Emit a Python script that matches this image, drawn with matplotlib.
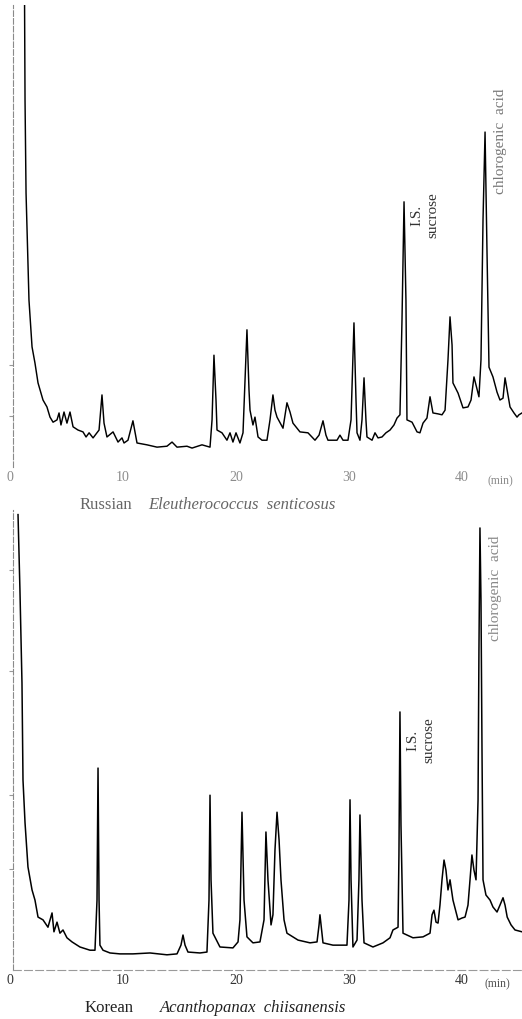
import matplotlib
matplotlib.use("Agg")
import matplotlib.pyplot as plt

plt.rcParams['font.family'] = ['Liberation Serif', 'DejaVu Serif']

# retention time (min) and detector response (% of panel height)
russian_t = [1.24, 1.33, 1.42, 1.68, 1.95, 2.21, 2.48, 2.92, 3.27, 3.54, 3.81, 4.16, 4.34, 4.51,
             4.78, 5.04, 5.31, 5.58, 6.02, 6.46, 6.73, 7.00, 7.35, 7.70, 7.88, 8.14, 8.32, 8.58,
             9.12, 9.56, 9.91, 10.09, 10.44, 10.88, 11.24, 12.12, 13.01, 13.89, 14.34, 14.78,
             15.66, 16.11, 16.99, 17.70, 17.88, 18.05, 18.23, 18.32, 18.76, 19.20, 19.47, 19.73,
             20.00, 20.35, 20.62, 20.97, 21.15, 21.24, 21.50, 21.68, 21.95, 22.30, 22.74, 23.01,
             23.27, 23.45, 23.63, 24.16, 24.34, 24.51, 24.78, 25.04, 25.66, 26.37, 26.99, 27.35,
             27.70, 27.96, 28.14, 28.94, 29.20, 29.47, 29.91, 30.18, 30.44, 30.62, 30.71, 30.97,
             31.15, 31.33, 31.50, 31.59, 32.04, 32.30, 32.57, 32.92, 33.27, 33.63, 33.98, 34.25,
             34.51, 34.69, 34.87, 35.04, 35.13, 35.58, 36.02, 36.28, 36.55, 36.90, 37.17, 37.43,
             37.88, 38.23, 38.50, 38.76, 38.94, 39.12, 39.20, 39.65, 40.09, 40.53, 40.80, 41.06,
             41.24, 41.50, 41.68, 41.86, 42.04, 42.21, 42.39, 42.74, 43.10, 43.36, 43.63, 43.81,
             44.07, 44.25, 44.60, 44.87, 45.04, 45.31]
russian_s = [125, 79.4, 59.3, 36.1, 26.0, 22.5, 18.2, 14.5, 13.0, 10.8, 9.7, 10.2, 11.7, 9.1,
             11.9, 9.5, 11.9, 8.7, 8.0, 7.6, 6.5, 7.4, 6.3, 7.4, 8.0, 15.6, 9.5, 6.5,
             7.6, 5.4, 6.3, 5.2, 5.8, 10.0, 5.2, 4.8, 4.3, 4.5, 5.4, 4.3,
             4.5, 4.1, 4.8, 4.3, 10.2, 24.2, 14.5, 8.0, 7.4, 5.8, 7.4, 5.4,
             7.4, 5.2, 7.4, 29.7, 16.7, 12.3, 9.1, 10.8, 6.5, 5.8, 5.8, 10.2,
             15.6, 12.3, 10.8, 8.4, 11.3, 13.9, 11.9, 9.5, 7.6, 7.4, 5.8, 6.9,
             10.0, 6.9, 5.8, 5.8, 6.9, 5.8, 5.8, 10.2, 31.2, 14.5, 7.4, 5.8,
             10.2, 19.3, 10.2, 6.5, 5.8, 7.4, 6.3, 6.5, 7.4, 8.0, 9.1, 10.6,
             11.3, 31.8, 57.4, 36.1, 10.2, 9.7, 7.6, 7.4, 9.5, 10.6, 15.2, 11.7,
             11.5, 11.3, 12.3, 23.2, 32.5, 26.4, 18.2, 16.0, 12.8, 13.0, 14.5, 19.5,
             17.7, 15.2, 23.2, 53.5, 72.5, 47.0, 21.6, 19.5, 16.2, 14.5, 14.9, 19.3,
             15.6, 13.0, 11.7, 10.8, 11.3, 11.7]

korean_t = [0.71, 0.88, 1.06, 1.15, 1.33, 1.59, 1.95, 2.21, 2.48, 2.92, 3.36, 3.72, 3.89, 4.16,
            4.42, 4.69, 5.04, 5.49, 6.19, 7.08, 7.52, 7.70, 7.79, 7.88, 7.96, 8.23, 8.85, 9.73,
            10.88, 12.39, 13.89, 14.78, 15.13, 15.31, 15.49, 15.75, 16.81, 17.43, 17.61, 17.70,
            17.79, 17.96, 18.58, 19.73, 20.18, 20.35, 20.53, 20.71, 20.97, 21.50, 22.12, 22.48,
            22.65, 22.83, 23.10, 23.27, 23.45, 23.63, 23.81, 23.98, 24.25, 24.51, 25.49, 26.55,
            27.17, 27.35, 27.43, 27.70, 28.58, 29.82, 30.00, 30.09, 30.18, 30.35, 30.71, 30.88,
            30.97, 31.15, 31.33, 32.12, 33.01, 33.63, 33.89, 34.34, 34.42, 34.51, 34.60, 34.78,
            35.66, 36.55, 37.17, 37.35, 37.52, 37.70, 37.88, 38.05, 38.23, 38.41, 38.58, 38.76,
            38.94, 39.20, 39.65, 40.00, 40.27, 40.53, 40.71, 40.88, 41.06, 41.24, 41.42, 41.50,
            41.59, 41.68, 41.77, 41.86, 42.12, 42.48, 42.74, 43.10, 43.36, 43.63, 43.81, 44.00,
            44.34, 44.69, 45.31]
korean_s = [99.0, 82.6, 62.4, 41.3, 32.0, 22.4, 17.4, 15.2, 11.5, 10.9, 9.3, 12.4, 8.3, 10.4,
            8.0, 8.7, 7.0, 6.1, 5.0, 4.3, 4.3, 15.2, 43.9, 15.2, 5.4, 4.3, 3.7, 3.5,
            3.5, 3.7, 3.3, 3.5, 5.4, 7.6, 5.4, 3.9, 3.7, 3.9, 15.2, 38.0,
            19.6, 8.0, 5.0, 4.8, 6.1, 10.9, 34.3, 15.2, 7.2, 5.9, 6.1, 10.9,
            30.0, 19.6, 9.8, 12.0, 26.1, 34.3, 28.3, 19.6, 10.9, 8.0, 6.5, 5.9,
            6.1, 9.8, 12.0, 5.9, 5.4, 5.4, 15.2, 37.0, 19.6, 5.0, 6.5, 19.6,
            33.7, 15.2, 5.9, 5.0, 5.9, 7.0, 8.7, 9.3, 25.0, 56.1, 31.5, 8.0,
            7.0, 7.2, 8.0, 12.0, 13.0, 10.4, 10.2, 14.1, 19.6, 23.9, 21.7, 17.4,
            19.6, 15.2, 10.9, 11.3, 11.5, 14.1, 19.6, 25.0, 21.7, 19.6, 37.0, 69.6,
            96.1, 80.4, 47.8, 19.6, 16.3, 15.2, 13.7, 12.6, 14.1, 15.7, 14.1, 11.5,
            9.8, 8.7, 8.3]

tick_vals = [0, 10, 20, 30, 40]
russian_yticks = [11, 22]
korean_yticks = [22, 38, 65, 87]

fig = plt.figure(figsize=(5.22, 10.19), dpi=100)
ax1 = fig.add_axes([0, 0.5417, 1, 0.4534])
ax2 = fig.add_axes([0, 0.0481, 1, 0.4514])

for ax in (ax1, ax2):
    ax.set_xlim(-0.885, 45.31)
    ax.set_ylim(0, 100)
    ax.patch.set_alpha(0)
    for sp in ('top', 'right'):
        ax.spines[sp].set_visible(False)
    ax.spines['left'].set_position(('data', 0.27))
    ax.spines['left'].set_linestyle((0, (5, 2)))
    ax.spines['left'].set_color('#8a8a8a')
    ax.spines['left'].set_linewidth(0.8)
    ax.set_xticks(tick_vals)
    ax.tick_params(axis='x', length=0)
    ax.tick_params(axis='y', length=3, color='#999999', labelleft=False)

ax1.spines['bottom'].set_visible(False)
ax2.spines['bottom'].set_linestyle((0, (7, 3)))
ax2.spines['bottom'].set_color('#9a9a9a')
ax2.spines['bottom'].set_linewidth(0.8)
ax2.spines['bottom'].set_bounds(0.27, 45.31)

ax1.plot(russian_t, russian_s, color='black', lw=1.05)
ax2.plot(korean_t, korean_s, color='black', lw=1.1)

ax1.set_yticks(russian_yticks)
ax2.set_yticks(korean_yticks)
ax1.set_xticklabels([str(v) for v in tick_vals], fontsize=10, color='#8c8c8c')
ax2.set_xticklabels([str(v) for v in tick_vals], fontsize=10, color='#333333')
ax1.tick_params(axis='x', pad=3)
ax2.tick_params(axis='x', pad=3)

# "(min)" labels beside the last tick
ax1.text(43.4, -1.9, '(min)', fontsize=8.5, color='#8c8c8c', ha='center', va='top')
ax2.text(43.1, -1.9, '(min)', fontsize=8.5, color='#555555', ha='center', va='top')

# peak annotations
ax1.text(36.7, 54.5, 'I.S.\nsucrose', rotation=90, fontsize=11, color='#333333',
         ha='center', va='center', multialignment='center', linespacing=1.3)
ax1.text(43.4, 70.5, 'chlorogenic  acid', rotation=90, fontsize=11, color='#777777',
         ha='center', va='center')
ax2.text(36.4, 50.0, 'I.S.\nsucrose', rotation=90, fontsize=11, color='#333333',
         ha='center', va='center', multialignment='center', linespacing=1.3)
ax2.text(43.0, 83.0, 'chlorogenic  acid', rotation=90, fontsize=11, color='#888888',
         ha='center', va='center')

# panel captions
fig.text(80 / 522, 1 - 505 / 1019, 'Russian', fontsize=12, color='#666666', va='center')
fig.text(148 / 522, 1 - 505 / 1019, 'Eleutherococcus  senticosus', fontsize=12,
         style='italic', color='#666666', va='center')
fig.text(85 / 522, 1 - 1008 / 1019, 'Korean', fontsize=12, color='#222222', va='center')
fig.text(160 / 522, 1 - 1008 / 1019, 'Acanthopanax  chiisanensis', fontsize=12,
         style='italic', color='#222222', va='center')

fig.savefig('out.png', dpi=100)
